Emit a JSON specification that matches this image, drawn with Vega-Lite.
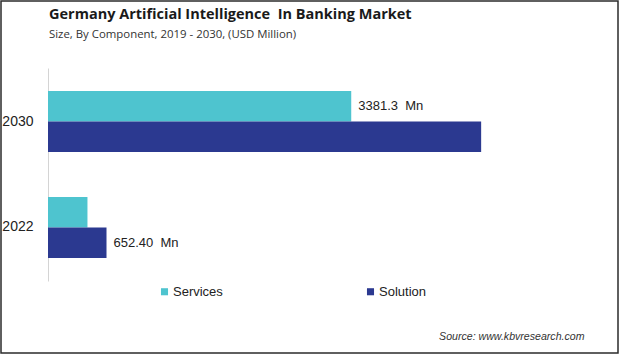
{
  "$schema": "https://vega.github.io/schema/vega-lite/v6.json",
  "width": 617,
  "height": 352,
  "autosize": "none",
  "padding": {"left": 1, "top": 1, "right": 1, "bottom": 1},
  "background": "white",
  "config": {
    "font": "Liberation Sans",
    "view": {"stroke": "#2b2b2b", "strokeWidth": 1.5, "fill": "white"}
  },
  "title": {
    "text": "Germany Artificial Intelligence \u00a0In Banking Market",
    "subtitle": "Size, By Component, 2019 - 2030, (USD Million)",
    "anchor": "start",
    "frame": "group",
    "dx": 48,
    "offset": -40,
    "font": "Open Sans",
    "fontSize": 14.5,
    "fontWeight": "bold",
    "color": "#1a1a1a",
    "subtitleFont": "Open Sans",
    "subtitleFontSize": 11.4,
    "subtitleColor": "#333333",
    "subtitlePadding": 6
  },
  "data": {
    "values": [
      {"year": "2030", "component": "Services", "value": 3381.3, "label": "3381.3\u00a0\u00a0Mn"},
      {"year": "2030", "component": "Solution", "value": 4830, "label": ""},
      {"year": "2022", "component": "Services", "value": 440, "label": ""},
      {"year": "2022", "component": "Solution", "value": 652.4, "label": "652.40\u00a0\u00a0Mn"}
    ]
  },
  "encoding": {
    "y": {
      "field": "year",
      "type": "nominal",
      "sort": ["2030", "2022"],
      "scale": {"range": [67, 280], "paddingInner": 0.4245, "paddingOuter": 0.217},
      "axis": {
        "title": null,
        "offset": -47,
        "ticks": false,
        "tickSize": 0,
        "labelPadding": 15,
        "labelFontSize": 14,
        "labelColor": "#222222",
        "domainColor": "#d4d4d4",
        "domainWidth": 1,
        "grid": false
      }
    },
    "yOffset": {
      "field": "component",
      "type": "nominal",
      "sort": ["Services", "Solution"],
      "scale": {"paddingInner": 0, "paddingOuter": 0}
    },
    "x": {
      "field": "value",
      "type": "quantitative",
      "scale": {"domain": [0, 6356], "range": [47, 617], "nice": false},
      "axis": {
        "title": "Source: www.kbvresearch.com",
        "labels": false,
        "ticks": false,
        "domain": false,
        "grid": false,
        "titleFont": "Liberation Sans",
        "titleFontStyle": "italic",
        "titleFontWeight": "normal",
        "titleFontSize": 10.6,
        "titleColor": "#333333",
        "titleAlign": "right",
        "titleAnchor": "end",
        "titleBaseline": "alphabetic",
        "titleX": 583,
        "titleY": -14
      }
    }
  },
  "layer": [
    {
      "mark": {"type": "bar"},
      "encoding": {
        "color": {
          "field": "component",
          "type": "nominal",
          "scale": {"domain": ["Services", "Solution"], "range": ["#4EC4CF", "#2B3990"]},
          "legend": {
            "title": null,
            "orient": "none",
            "legendX": 157,
            "legendY": 284,
            "direction": "horizontal",
            "symbolType": "square",
            "symbolSize": 50,
            "symbolStrokeWidth": 0,
            "labelFontSize": 13,
            "labelColor": "#222222",
            "labelOffset": 2,
            "columnPadding": 141,
            "padding": 0
          }
        }
      }
    },
    {
      "mark": {"type": "text", "align": "left", "baseline": "middle", "dx": 7, "fontSize": 13, "color": "#222222"},
      "encoding": {"text": {"field": "label"}}
    }
  ]
}
